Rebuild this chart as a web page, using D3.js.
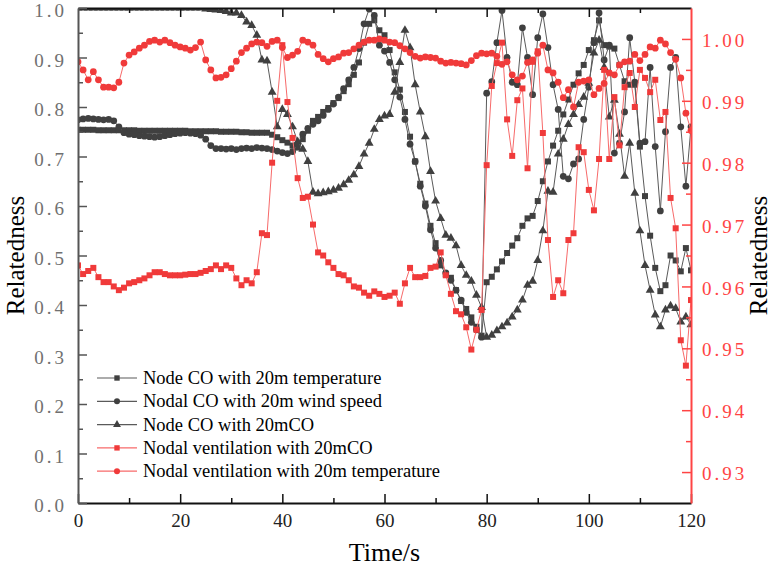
<!DOCTYPE html>
<html>
<head>
<meta charset="utf-8">
<script src="https://cdn.jsdelivr.net/npm/d3@7"></script>
<style>
body { margin: 0; background: #fff; }
svg { display: block; }
</style>
</head>
<body>
<div id="chart"></div>
<script>
// time axis (s), one sample per second
var time = d3.range(0, 121);

var seriesNames = [
    "Node CO with 20m temperature",
    "Nodal CO with 20m wind speed",
    "Node CO with 20mCO",
    "Nodal ventilation with 20mCO",
    "Nodal ventilation with 20m temperature"
];

// left axis series
var coTemp = [
    0.754,0.754,0.754,0.754,0.753,0.753,0.753,0.753,0.753,0.753,
    0.753,0.753,0.752,0.752,0.752,0.752,0.752,0.752,0.752,0.752,
    0.752,0.752,0.751,0.751,0.751,0.751,0.751,0.751,0.750,0.750,
    0.750,0.750,0.749,0.749,0.748,0.748,0.748,0.748,0.744,0.739,
    0.733,0.728,0.722,0.718,0.735,0.752,0.772,0.780,0.790,0.798,
    0.808,0.818,0.832,0.846,0.865,0.890,0.930,0.968,0.975,0.955,
    0.945,0.915,0.870,0.835,0.790,0.740,0.690,0.645,0.605,0.560,
    0.525,0.480,0.462,0.455,0.430,0.408,0.392,0.375,0.356,0.338,
    0.446,0.457,0.472,0.488,0.505,0.520,0.535,0.560,0.575,0.580,
    0.610,0.650,0.690,0.722,0.752,0.785,0.815,0.845,0.868,0.885,
    0.915,0.935,0.975,0.925,0.922,0.918,0.885,0.852,0.845,0.845,
    0.720,0.620,0.540,0.475,0.428,0.440,0.500,0.490,0.468,0.515,0.470
];
var coWind = [
    0.774,0.776,0.777,0.776,0.775,0.774,0.775,0.772,0.760,0.748,
    0.745,0.744,0.742,0.741,0.740,0.739,0.740,0.742,0.744,0.746,
    0.747,0.748,0.747,0.746,0.743,0.735,0.722,0.716,0.716,0.715,
    0.716,0.714,0.716,0.717,0.716,0.718,0.717,0.716,0.714,0.711,
    0.708,0.706,0.710,0.725,0.745,0.757,0.765,0.772,0.783,0.795,
    0.806,0.820,0.837,0.855,0.880,0.918,0.968,0.998,0.985,0.925,
    0.913,0.890,0.855,0.820,0.775,0.725,0.690,0.640,0.600,0.552,
    0.515,0.490,0.465,0.450,0.430,0.410,0.385,0.365,0.350,0.335,
    0.828,0.851,0.930,0.995,0.900,0.850,0.845,0.960,0.900,0.825,
    0.940,0.988,0.920,0.845,0.795,0.660,0.655,0.685,0.695,0.775,
    0.840,0.930,0.990,0.895,0.925,0.707,0.727,0.790,0.940,0.850,
    0.727,0.730,0.880,0.720,0.590,0.750,0.880,0.900,0.760,0.640,0.760
];
var coCO = [
    1.0,1.0,1.0,1.0,1.0,1.0,1.0,1.0,1.0,1.0,
    1.0,1.0,1.0,1.0,1.0,1.0,1.0,1.0,1.0,1.0,
    1.0,1.0,1.0,1.0,1.0,0.998,0.997,0.996,0.995,0.993,
    0.990,0.990,0.985,0.972,0.965,0.945,0.895,0.893,0.830,0.760,
    0.795,0.785,0.760,0.730,0.715,0.690,0.628,0.625,0.627,0.629,
    0.632,0.636,0.643,0.652,0.663,0.680,0.705,0.727,0.755,0.775,
    0.782,0.785,0.830,0.890,0.955,0.920,0.845,0.790,0.740,0.670,
    0.610,0.575,0.541,0.535,0.520,0.480,0.460,0.448,0.420,0.395,
    0.335,0.339,0.348,0.356,0.364,0.376,0.390,0.410,0.440,0.448,
    0.490,0.550,0.630,0.628,0.705,0.735,0.765,0.785,0.805,0.820,
    0.848,0.909,0.935,0.880,0.780,0.814,0.745,0.660,0.727,0.626,
    0.550,0.480,0.430,0.380,0.356,0.390,0.398,0.393,0.366,0.376,0.360
];

// right axis series
var ventCO = [
    0.9634,0.9620,0.9625,0.9630,0.9615,0.9607,0.9607,0.9600,0.9594,0.9598,
    0.9605,0.9607,0.9610,0.9613,0.9618,0.9623,0.9623,0.9620,0.9618,0.9618,
    0.9618,0.9619,0.9620,0.9620,0.9622,0.9625,0.9628,0.9634,0.9628,0.9634,
    0.9630,0.9613,0.9602,0.9610,0.9605,0.9623,0.9686,0.9683,0.9800,0.9900,
    0.9990,0.9898,0.9840,0.9775,0.9743,0.9745,0.9700,0.9655,0.9650,0.9639,
    0.9630,0.9620,0.9618,0.9610,0.9600,0.9598,0.9590,0.9585,0.9592,0.9588,
    0.9583,0.9585,0.9590,0.9572,0.9605,0.9630,0.9615,0.9615,0.9617,0.9630,
    0.9632,0.9655,0.9618,0.9588,0.9560,0.9555,0.9534,0.9498,0.9530,0.9562,
    0.9796,0.9924,0.9961,0.9994,0.9870,0.9811,0.9901,0.9920,0.9791,0.9963,
    0.9980,0.9848,0.9675,0.9583,0.9610,0.9589,0.9675,0.9686,0.9825,0.9817,
    0.9756,0.9723,0.9806,0.9950,0.9806,0.9906,0.9828,0.9922,0.9945,0.9890,
    0.9950,0.9937,0.9914,0.9934,0.9869,0.9882,0.9743,0.9694,0.9513,0.9472,0.9578
];
var ventTemp = [
    0.9963,0.9950,0.9934,0.9947,0.9934,0.9922,0.9922,0.9921,0.9930,0.9961,
    0.9974,0.9979,0.9985,0.9990,0.9996,0.9998,0.9995,0.9998,0.9994,0.9990,
    0.9987,0.9985,0.9982,0.9986,0.9995,0.9966,0.9950,0.9937,0.9938,0.9942,
    0.9952,0.9964,0.9978,0.9985,0.9992,0.9995,0.9994,0.9988,0.9996,0.9998,
    0.9986,0.9970,0.9974,0.9980,0.9998,0.9995,0.9990,0.9975,0.9968,0.9963,
    0.9968,0.9971,0.9977,0.9978,0.9984,0.9990,0.9995,0.9998,0.9998,1.0000,
    0.9998,0.9995,0.9994,0.9989,0.9984,0.9978,0.9972,0.9969,0.9971,0.9970,
    0.9969,0.9964,0.9961,0.9962,0.9961,0.9960,0.9958,0.9965,0.9973,0.9977,
    0.9976,0.9977,0.9972,0.9959,0.9963,0.9942,0.9934,0.9940,0.9962,0.9966,
    0.9977,0.9990,0.9950,0.9945,0.9930,0.9905,0.9918,0.9890,0.9930,0.9932,
    0.9934,0.9910,0.9920,0.9928,0.9945,0.9942,0.9958,0.9963,0.9964,0.9975,
    0.9965,0.9975,0.9987,0.9985,0.9998,0.9992,0.9978,0.9967,0.9937,0.9880,0.9852
];

var xTicks = [0, 20, 40, 60, 80, 100, 120];
var leftTicks = [0, 0.1, 0.2, 0.3, 0.4, 0.5, 0.6, 0.7, 0.8, 0.9, 1.0];
var rightTicks = [0.93, 0.94, 0.95, 0.96, 0.97, 0.98, 0.99, 1.00];

var width = 774, height = 569;
var margin = { top: 8, right: 83, bottom: 66, left: 78 };
var plotW = width - margin.left - margin.right;
var plotH = height - margin.top - margin.bottom;

var dark = "#404040", darkLine = "#5a5a5a";
var red = "#f03a3a", redLine = "#f76a6a";
var serif = "'Liberation Serif', 'Times New Roman', serif";

var svg = d3.select("#chart")
    .append("svg")
    .attr("width", width)
    .attr("height", height);

var g = svg.append("g")
    .attr("transform", "translate(" + margin.left + "," + margin.top + ")");

var x = d3.scaleLinear().domain([0, 120]).range([0, plotW]);
var yL = d3.scaleLinear().domain([0, 1]).range([plotH, 0]);
var yR = d3.scaleLinear().domain([0.925, 1.005]).range([plotH, 0]);

svg.append("defs").append("clipPath")
    .attr("id", "plotClip")
    .append("rect")
    .attr("width", plotW)
    .attr("height", plotH);

var series = [
    { name: seriesNames[0], values: coTemp, y: yL, color: dark, line: darkLine, symbol: d3.symbolSquare, size: 36 },
    { name: seriesNames[1], values: coWind, y: yL, color: dark, line: darkLine, symbol: d3.symbolCircle, size: 36 },
    { name: seriesNames[2], values: coCO, y: yL, color: dark, line: darkLine, symbol: d3.symbolTriangle, size: 34 },
    { name: seriesNames[3], values: ventCO, y: yR, color: red, line: redLine, symbol: d3.symbolSquare, size: 36 },
    { name: seriesNames[4], values: ventTemp, y: yR, color: red, line: redLine, symbol: d3.symbolCircle, size: 36 }
];

var marks = g.append("g").attr("clip-path", "url(#plotClip)");

series.forEach(function(s) {
    var pts = time.map(function(t, i) { return [t, s.values[i]]; });
    var line = d3.line()
        .x(function(d) { return x(d[0]); })
        .y(function(d) { return s.y(d[1]); });

    marks.append("path")
        .datum(pts)
        .attr("fill", "none")
        .attr("stroke", s.line)
        .attr("stroke-width", 1)
        .attr("d", line);

    marks.append("g").selectAll("path")
        .data(pts)
        .enter().append("path")
        .attr("d", d3.symbol().type(s.symbol).size(s.size))
        .attr("transform", function(d) { return "translate(" + x(d[0]) + "," + s.y(d[1]) + ")"; })
        .attr("fill", s.color);
});

// axes: ticks point inward
function styleAxis(sel, stroke, textColor, spacing) {
    sel.attr("font-family", null);
    sel.select(".domain").attr("stroke", stroke).attr("stroke-width", 2);
    sel.selectAll(".tick line").attr("stroke", stroke).attr("stroke-width", 1.5);
    sel.selectAll(".tick text")
        .attr("fill", textColor)
        .style("font-family", serif)
        .style("font-size", "19px")
        .style("letter-spacing", spacing);
}

var xMinor = g.append("g")
    .attr("transform", "translate(0," + plotH + ")")
    .call(d3.axisBottom(x).tickValues([10, 30, 50, 70, 90, 110]).tickSize(-5).tickFormat(""));
xMinor.select(".domain").remove();
xMinor.selectAll(".tick line").attr("stroke", "#111").attr("stroke-width", 1.5);

var xAxis = g.append("g")
    .attr("transform", "translate(0," + plotH + ")")
    .call(d3.axisBottom(x).tickValues(xTicks).tickSize(-9).tickSizeOuter(0).tickPadding(11).tickFormat(d3.format("d")));
styleAxis(xAxis, "#111", "#222", "0px");

var topMinor = g.append("g")
    .call(d3.axisTop(x).tickValues([10, 30, 50, 70, 90, 110]).tickSize(-5).tickFormat(""));
topMinor.select(".domain").remove();
topMinor.selectAll(".tick line").attr("stroke", "#111").attr("stroke-width", 1.5);

var topAxis = g.append("g")
    .call(d3.axisTop(x).tickValues(xTicks.slice(1, 6)).tickSize(-9).tickSizeOuter(0).tickFormat(""));
styleAxis(topAxis, "#111", "#222", "0px");

var leftMinor = g.append("g")
    .call(d3.axisLeft(yL).tickValues(d3.range(0.05, 1, 0.1)).tickSize(-5).tickFormat(""));
leftMinor.select(".domain").remove();
leftMinor.selectAll(".tick line").attr("stroke", "#555").attr("stroke-width", 1.5);

var leftAxis = g.append("g")
    .call(d3.axisLeft(yL).tickValues(leftTicks).tickSize(-9).tickSizeOuter(0).tickPadding(11).tickFormat(d3.format(".1f")));
styleAxis(leftAxis, "#555", "#707070", "3px");
leftAxis.selectAll(".tick text").attr("dy", "0.45em");

var rightMinor = g.append("g")
    .attr("transform", "translate(" + plotW + ",0)")
    .call(d3.axisRight(yR).tickValues([0.935, 0.945, 0.955, 0.965, 0.975, 0.985, 0.995]).tickSize(-5).tickFormat(""));
rightMinor.select(".domain").remove();
rightMinor.selectAll(".tick line").attr("stroke", "#f44").attr("stroke-width", 1.5);

var rightAxis = g.append("g")
    .attr("transform", "translate(" + plotW + ",0)")
    .call(d3.axisRight(yR).tickValues(rightTicks).tickSize(-9).tickSizeOuter(0).tickPadding(11).tickFormat(d3.format(".2f")));
styleAxis(rightAxis, "#f44", "#f44", "3px");
rightAxis.selectAll(".tick text").attr("dy", "0.4em");

// axis titles
svg.append("text")
    .attr("transform", "translate(24," + (margin.top + plotH / 2) + ") rotate(-90)")
    .attr("text-anchor", "middle")
    .style("font-family", serif)
    .style("font-size", "25px")
    .attr("fill", "#000")
    .text("Relatedness");

svg.append("text")
    .attr("transform", "translate(767," + (margin.top + plotH / 2) + ") rotate(-90)")
    .attr("text-anchor", "middle")
    .style("font-family", serif)
    .style("font-size", "25px")
    .attr("fill", "#000")
    .text("Relatedness");

svg.append("text")
    .attr("x", margin.left + plotW / 2)
    .attr("y", 561)
    .attr("text-anchor", "middle")
    .style("font-family", serif)
    .style("font-size", "26px")
    .attr("fill", "#000")
    .text("Time/s");

// legend
var legend = svg.append("g").attr("transform", "translate(97,378)");
var item = legend.selectAll("g")
    .data(series)
    .enter().append("g")
    .attr("transform", function(d, i) { return "translate(0," + (i * 23.3) + ")"; });

item.append("line")
    .attr("x1", 0).attr("x2", 40)
    .attr("stroke", function(d) { return d.line; })
    .attr("stroke-width", 1.2);

item.append("path")
    .attr("transform", "translate(20,0)")
    .attr("d", function(d) { return d3.symbol().type(d.symbol).size(d.size * 0.8)(); })
    .attr("fill", function(d) { return d.color; });

item.append("text")
    .attr("x", 46)
    .attr("dy", "0.33em")
    .style("font-family", serif)
    .style("font-size", "18.5px")
    .attr("fill", "#000")
    .text(function(d) { return d.name; });
</script>
</body>
</html>
